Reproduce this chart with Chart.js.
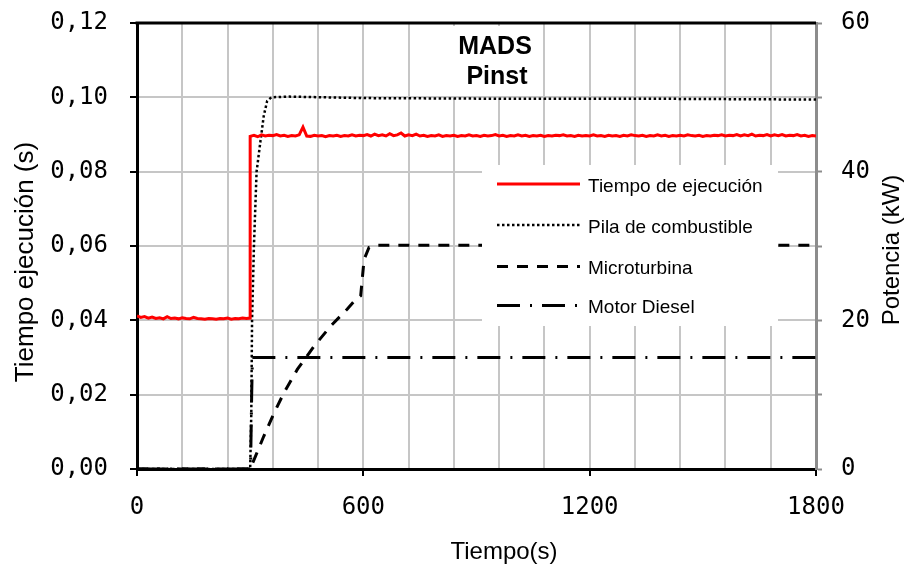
<!DOCTYPE html>
<html>
<head>
<meta charset="utf-8">
<script src="https://cdn.jsdelivr.net/npm/chart.js@4.4.1/dist/chart.umd.min.js"></script>
<style>
  html, body { margin: 0; padding: 0; background: #fff; }
</style>
</head>
<body>
<canvas id="grafico" width="908" height="569"></canvas>
<script>
// tiempo de ejecucion (s), eje izquierdo
const tiempoAntes = [0,10,20,30,40,50,60,70,80,90,100,110,120,130,140,150,160,170,180,190,200,210,220,230,240,250,260,270,280,290,300];
const ejecAntes = [0.0412,0.0408,0.0410,0.0406,0.0409,0.0405,0.0407,0.0404,0.0410,0.0405,0.0406,0.0404,0.0407,0.0405,0.0404,0.0408,0.0405,0.0404,0.0403,0.0405,0.0404,0.0403,0.0405,0.0404,0.0406,0.0403,0.0405,0.0404,0.0406,0.0405,0.0406];
const tiempoDespues = [300,310,320,330,340,350,360,370,380,390,400,410,420,430,440,450,460,470,480,490,500,510,520,530,540,550,560,570,580,590,
  600,610,620,630,640,650,660,670,680,690,700,710,720,730,740,750,760,770,780,790,800,810,820,830,840,850,860,870,880,890,
  900,910,920,930,940,950,960,970,980,990,1000,1010,1020,1030,1040,1050,1060,1070,1080,1090,1100,1110,1120,1130,1140,1150,1160,1170,1180,1190,
  1200,1210,1220,1230,1240,1250,1260,1270,1280,1290,1300,1310,1320,1330,1340,1350,1360,1370,1380,1390,1400,1410,1420,1430,1440,1450,1460,1470,1480,1490,
  1500,1510,1520,1530,1540,1550,1560,1570,1580,1590,1600,1610,1620,1630,1640,1650,1660,1670,1680,1690,1700,1710,1720,1730,1740,1750,1760,1770,1780,1790,1800];
const ejecDespues = [0.0895,0.0898,0.0894,0.0899,0.0896,0.0898,0.0897,0.0900,0.0896,0.0898,0.0895,0.0897,0.0896,0.0899,0.0920,0.0896,0.0895,0.0898,0.0896,0.0897,
  0.0894,0.0897,0.0896,0.0898,0.0895,0.0897,0.0896,0.0899,0.0896,0.0898,0.0897,0.0900,0.0896,0.0901,0.0897,0.0899,0.0896,0.0902,0.0897,0.0899,
  0.0904,0.0896,0.0899,0.0897,0.0901,0.0896,0.0898,0.0895,0.0897,0.0896,0.0899,0.0895,0.0897,0.0896,0.0898,0.0895,0.0897,0.0896,0.0899,0.0896,
  0.0897,0.0895,0.0898,0.0896,0.0897,0.0900,0.0896,0.0898,0.0895,0.0897,0.0896,0.0899,0.0896,0.0898,0.0895,0.0897,0.0896,0.0898,0.0895,0.0897,
  0.0896,0.0898,0.0897,0.0899,0.0896,0.0897,0.0895,0.0898,0.0896,0.0897,0.0896,0.0899,0.0896,0.0897,0.0895,0.0898,0.0896,0.0897,0.0895,0.0898,
  0.0896,0.0899,0.0897,0.0896,0.0898,0.0895,0.0897,0.0896,0.0899,0.0896,0.0898,0.0895,0.0897,0.0896,0.0898,0.0896,0.0899,0.0897,0.0896,0.0898,
  0.0895,0.0897,0.0896,0.0898,0.0897,0.0899,0.0896,0.0898,0.0897,0.0900,0.0896,0.0899,0.0897,0.0901,0.0896,0.0898,0.0897,0.0900,0.0896,0.0899,
  0.0897,0.0900,0.0896,0.0898,0.0897,0.0900,0.0896,0.0898,0.0895,0.0897,0.0896];

// potencias (kW), eje derecho
const tiempoPila = [0,300,303,305,310,317,327,336,345,356,400,600,1000,1400,1800];
const pilaKW = [0,0,7.5,20,30,40,44,47.5,49.5,50,50.1,49.9,49.8,49.8,49.7];
const tiempoMicro = [0,300,314,336,363,389,425,469,513,557,578,593,597,602,615,637,1800];
const microKW = [0,0,1.7,4.4,7.5,10.2,13.4,16.5,19.2,21.5,22.7,23.3,25.5,28.2,29.8,30.1,30.1];
const tiempoDiesel = [0,301,304,306,1800];
const dieselKW = [0,0,10,15,15];

const etiquetas = ['Tiempo de ejecución', 'Pila de combustible', 'Microturbina', 'Motor Diesel'];

function pares(xs, ys) {
  return xs.map((x, i) => ({ x: x, y: ys[i] }));
}

const ejecucion = pares(tiempoAntes, ejecAntes).concat(pares(tiempoDespues, ejecDespues));

const decoracion = {
  id: 'decoracion',
  afterDatasetsDraw(chart) {
    const ctx = chart.ctx;
    const a = chart.chartArea;
    ctx.save();

    // titulo
    ctx.fillStyle = '#fff';
    ctx.fillRect(449, 26, 89, 70);
    ctx.fillStyle = '#000';
    ctx.font = 'bold 25px "Liberation Sans", Arial, sans-serif';
    ctx.textAlign = 'center';
    ctx.textBaseline = 'alphabetic';
    ctx.fillText('MADS', 495, 54);
    ctx.fillText('Pinst', 497, 84);

    // leyenda
    ctx.fillStyle = '#fff';
    ctx.fillRect(482, 165, 296, 161);
    const filas = [184, 225, 266.5, 305.5];
    ctx.font = '19px "Liberation Sans", Arial, sans-serif';
    ctx.textAlign = 'left';
    chart.data.datasets.forEach((ds, i) => {
      const y = filas[i];
      ctx.beginPath();
      ctx.strokeStyle = ds.borderColor;
      ctx.lineWidth = ds.borderWidth;
      ctx.setLineDash(ds.borderDash || []);
      ctx.moveTo(497, y);
      ctx.lineTo(580, y);
      ctx.stroke();
      ctx.setLineDash([]);
      ctx.fillStyle = '#000';
      ctx.fillText(ds.label, 588, y + 7.5);
    });

    // borde superior
    ctx.beginPath();
    ctx.strokeStyle = '#000';
    ctx.lineWidth = 3;
    ctx.moveTo(a.left - 1.5, a.top);
    ctx.lineTo(a.right, a.top);
    ctx.stroke();

    // titulos de ejes
    ctx.fillStyle = '#000';
    ctx.font = '24px "Liberation Sans", Arial, sans-serif';
    ctx.textAlign = 'center';
    ctx.fillText('Tiempo(s)', 504, 559);

    ctx.save();
    ctx.translate(33, 262);
    ctx.rotate(-Math.PI / 2);
    ctx.font = '26px "Liberation Sans", Arial, sans-serif';
    ctx.fillText('Tiempo ejecución (s)', 0, 0);
    ctx.restore();

    ctx.save();
    ctx.translate(899, 250);
    ctx.rotate(-Math.PI / 2);
    ctx.fillText('Potencia (kW)', 0, 0);
    ctx.restore();

    ctx.restore();
  }
};

const fuenteTicks = { family: '"DejaVu Sans Mono", monospace', size: 24 };
const gris = '#c6c6c6';

function anchoFijo(ancho) {
  return function (s) {
    s.width = ancho;
    s.paddingTop = 0;
    s.paddingBottom = 0;
  };
}

new Chart(document.getElementById('grafico'), {
  type: 'line',
  data: {
    datasets: [
      {
        label: etiquetas[0],
        data: ejecucion,
        yAxisID: 'y',
        borderColor: '#ff0000',
        borderWidth: 3,
        pointRadius: 0,
        tension: 0
      },
      {
        label: etiquetas[1],
        data: pares(tiempoPila, pilaKW),
        yAxisID: 'y2',
        borderColor: '#000',
        borderWidth: 2.5,
        borderDash: [2.5, 2.5],
        pointRadius: 0,
        tension: 0
      },
      {
        label: etiquetas[2],
        data: pares(tiempoMicro, microKW),
        yAxisID: 'y2',
        borderColor: '#000',
        borderWidth: 3,
        borderDash: [11, 9],
        pointRadius: 0,
        tension: 0
      },
      {
        label: etiquetas[3],
        data: pares(tiempoDiesel, dieselKW),
        yAxisID: 'y2',
        borderColor: '#000',
        borderWidth: 3,
        borderDash: [23, 10, 2, 10],
        pointRadius: 0,
        tension: 0
      }
    ]
  },
  options: {
    responsive: false,
    animation: false,
    devicePixelRatio: 1,
    layout: { padding: { top: 23, left: 0, right: 0, bottom: 0 } },
    plugins: {
      legend: { display: false },
      tooltip: { enabled: false }
    },
    scales: {
      x: {
        type: 'linear',
        min: 0,
        max: 1800,
        afterFit(s) { s.height = 100; s.paddingLeft = 0; s.paddingRight = 0; },
        ticks: {
          stepSize: 120,
          autoSkip: false,
          maxRotation: 0,
          padding: 17,
          color: '#000',
          font: fuenteTicks,
          callback: v => (v % 600 === 0 ? v : '')
        },
        grid: {
          color: gris,
          lineWidth: 2,
          tickLength: 7,
          tickWidth: 2,
          tickColor: c => (c.tick && c.tick.value % 600 === 0 ? '#000' : 'rgba(0,0,0,0)')
        },
        border: { color: '#000', width: 3 }
      },
      y: {
        position: 'left',
        min: 0,
        max: 0.12,
        afterFit: anchoFijo(137),
        ticks: {
          stepSize: 0.02,
          padding: 22,
          color: '#000',
          font: fuenteTicks,
          callback: v => v.toFixed(2).replace('.', ',')
        },
        grid: {
          color: gris,
          lineWidth: 2,
          tickLength: 7,
          tickWidth: 2,
          tickColor: '#000'
        },
        border: { color: '#000', width: 3 }
      },
      y2: {
        position: 'right',
        min: 0,
        max: 60,
        afterFit: anchoFijo(92),
        ticks: {
          stepSize: 10,
          padding: 19,
          color: '#000',
          font: fuenteTicks,
          callback: v => (v % 20 === 0 ? v : '')
        },
        grid: {
          drawOnChartArea: false,
          tickLength: 6,
          tickWidth: 2,
          tickColor: '#8c8c8c'
        },
        border: { color: '#8c8c8c', width: 3 }
      }
    }
  },
  plugins: [decoracion]
});
</script>
</body>
</html>
